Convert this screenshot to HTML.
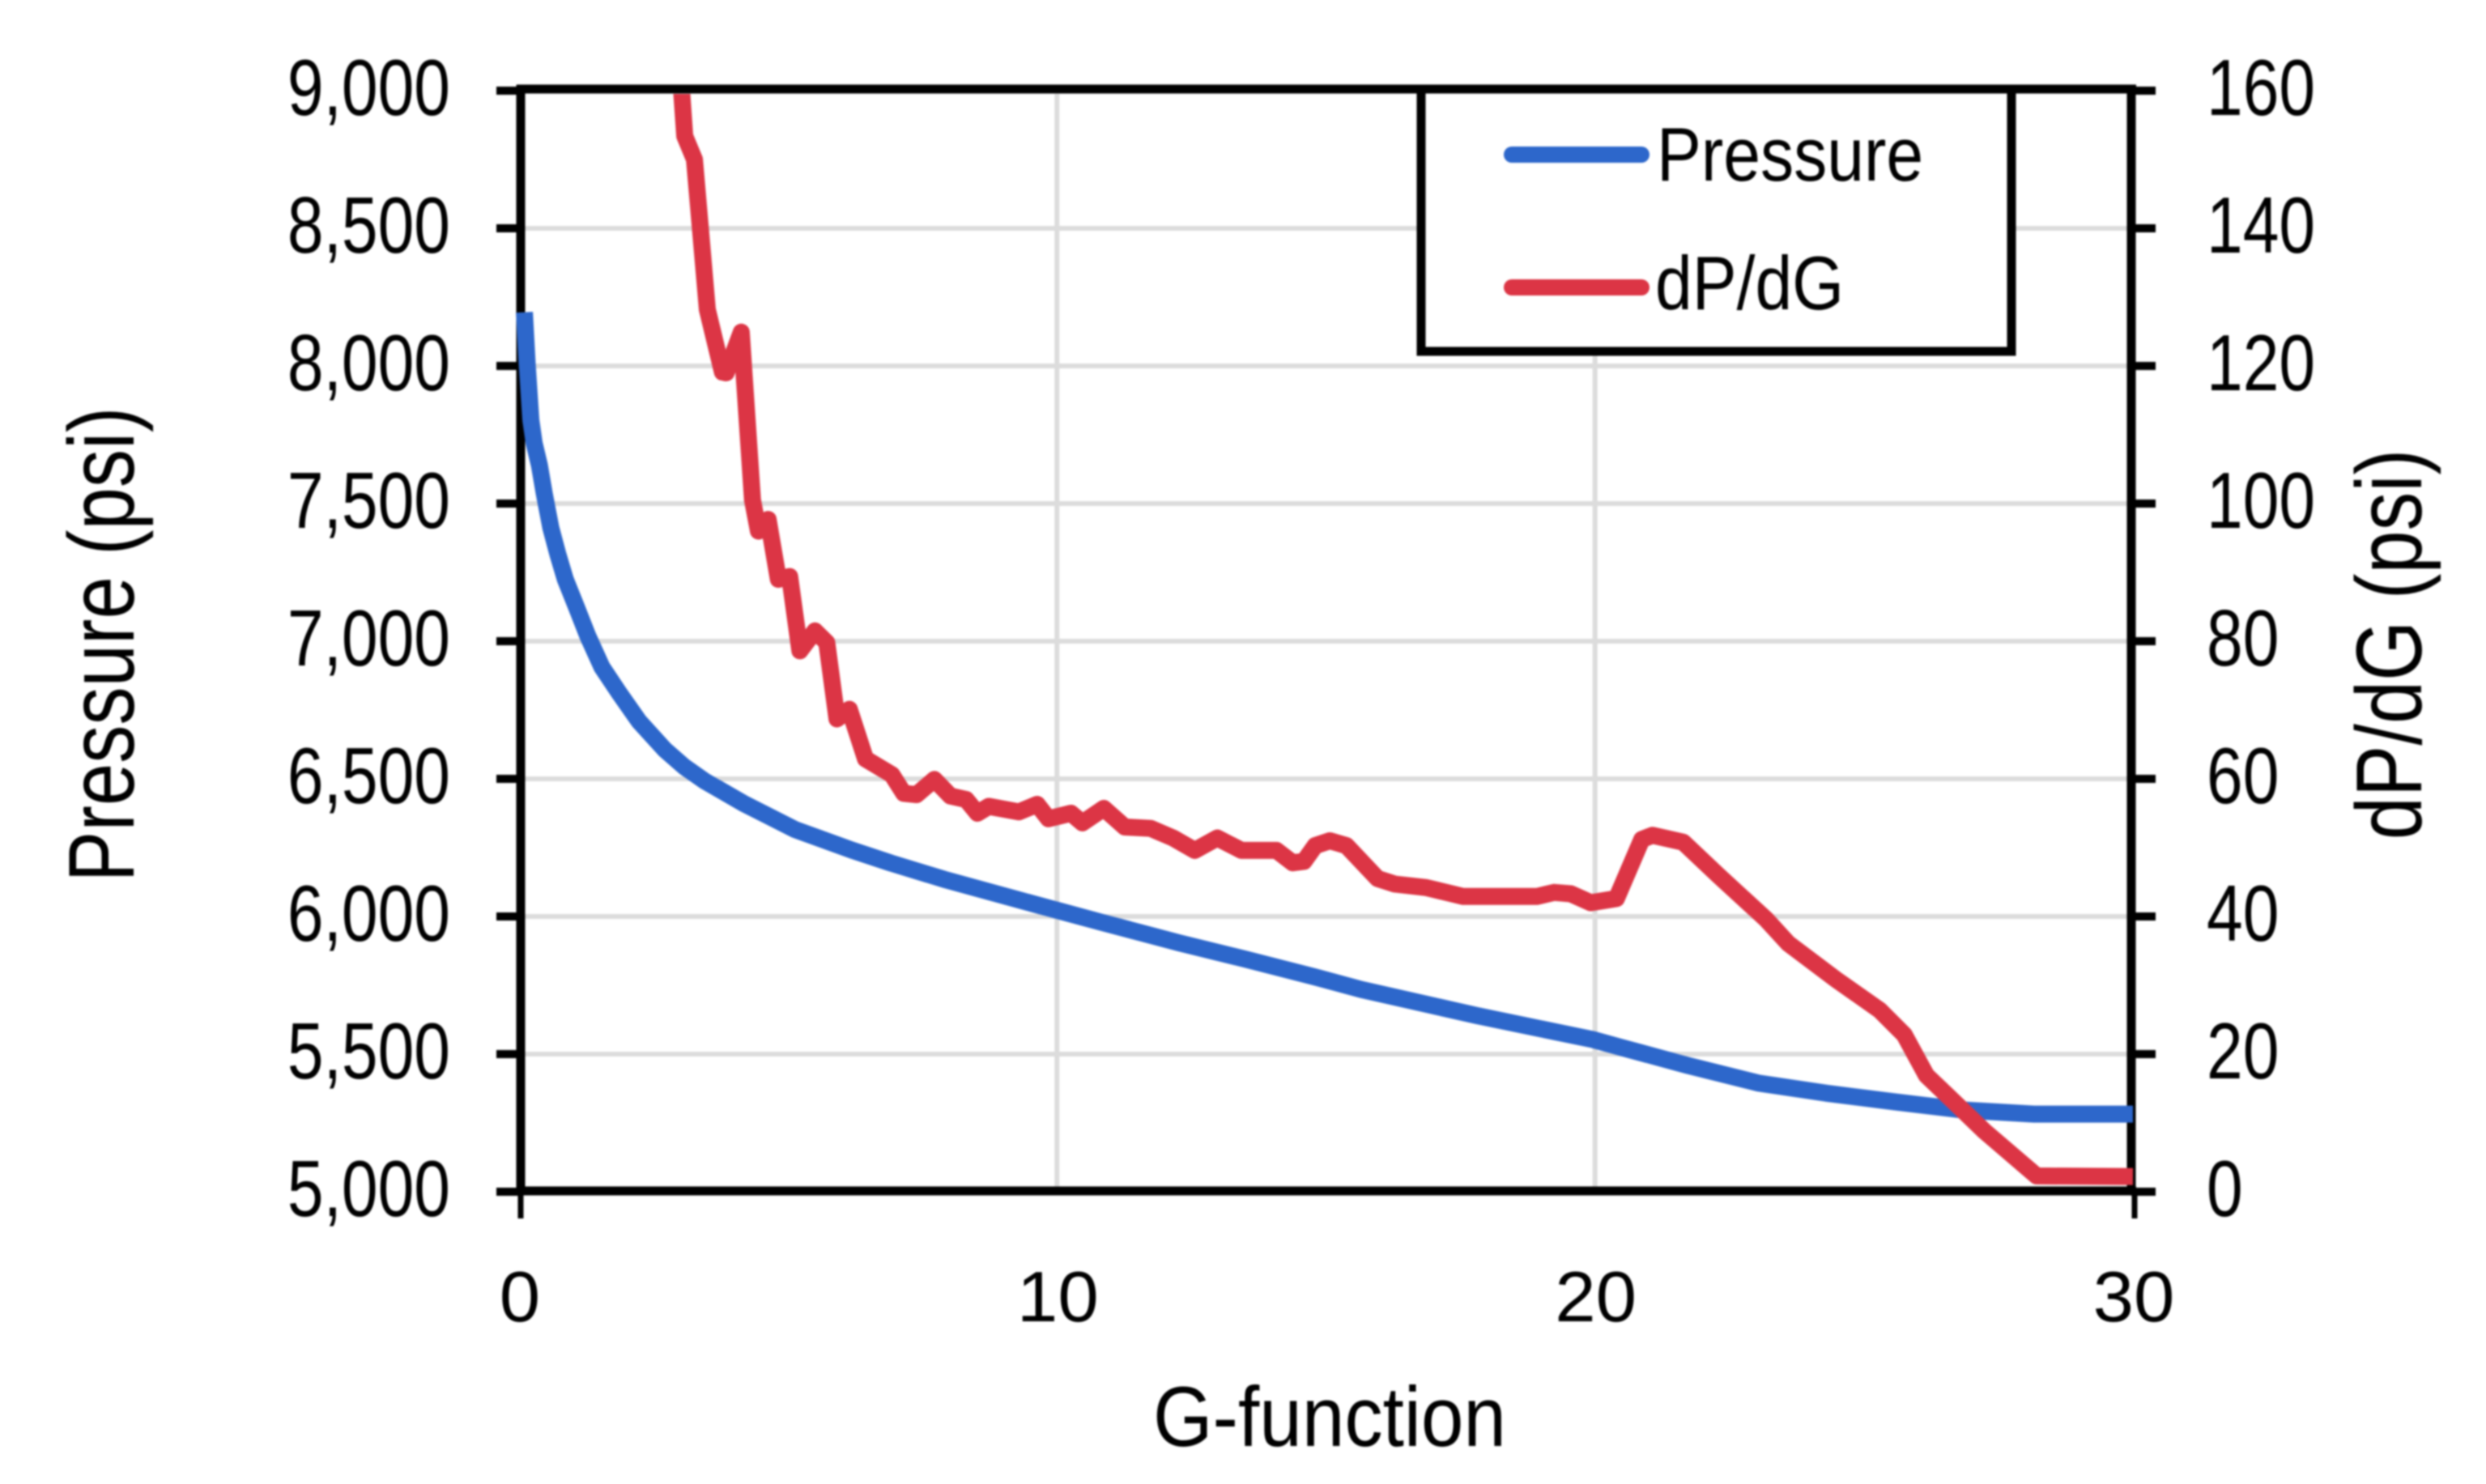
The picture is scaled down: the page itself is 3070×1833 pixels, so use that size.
<!DOCTYPE html>
<html lang="en">
<head>
<meta charset="utf-8">
<title>Pressure and dP/dG vs G-function</title>
<style>
html,body{margin:0;padding:0;background:#fff;}
svg{display:block;filter:blur(1px);}
text{font-family:"Liberation Sans",Arial,sans-serif;fill:#000;}
</style>
</head>
<body>
<svg id="chart" width="3070" height="1833" viewBox="0 0 3070 1833" xmlns="http://www.w3.org/2000/svg">
  <defs>
    <clipPath id="plot-clip"><rect x="630" y="116" width="2007" height="1350"></rect></clipPath>
  </defs>
  <rect x="0" y="0" width="3070" height="1833" fill="#ffffff"></rect>
  <g id="grid"></g>
  <g id="axes"></g>
  <g id="labels"></g>
  <g clip-path="url(#plot-clip)">
    <path id="pressure-line" fill="none" stroke="#2d67cb" stroke-width="21" stroke-linejoin="round"></path>
    <path id="dpdg-line" fill="none" stroke="#dc3545" stroke-width="21" stroke-linejoin="round"></path>
  </g>
  <g>
    <rect x="1755" y="110" width="729" height="324" fill="#ffffff" stroke="#000000" stroke-width="11"></rect>
    <line x1="1867" y1="191" x2="2027" y2="191" stroke="#2d67cb" stroke-width="20" stroke-linecap="round"></line>
    <text transform="translate(2046,223) scale(0.875,1)" font-size="94">Pressure</text>
    <line x1="1867" y1="355" x2="2027" y2="355" stroke="#dc3545" stroke-width="20" stroke-linecap="round"></line>
    <text transform="translate(2044,382) scale(0.875,1)" font-size="94">dP/dG</text>
  </g>
  <line x1="638" y1="110" x2="2638" y2="110" stroke="#000" stroke-width="11"></line>
  <text transform="translate(1642,1786) scale(0.9,1)" font-size="105" text-anchor="middle">G-function</text>
  <text transform="translate(165,796) rotate(-90) scale(0.82,1)" font-size="115" text-anchor="middle">Pressure (psi)</text>
  <text transform="translate(2990,796) rotate(-90) scale(0.83,1)" font-size="115" text-anchor="middle">dP/dG (psi)</text>
</svg>
<script>
const xTicks = [0, 10, 20, 30];
const pressureTicks = [5000, 5500, 6000, 6500, 7000, 7500, 8000, 8500, 9000];
const pressureTickLabels = ["5,000", "5,500", "6,000", "6,500", "7,000", "7,500", "8,000", "8,500", "9,000"];
const dpdgTicks = [0, 20, 40, 60, 80, 100, 120, 140, 160];

const pressureG = [0.1, 0.15, 0.22, 0.28, 0.38, 0.47, 0.59, 0.72, 0.86, 1.07, 1.28, 1.54, 1.86, 2.23, 2.71, 3.07, 3.45, 4.18, 5.13, 6.19, 6.91, 7.9, 9.31, 10.8, 12.27, 13.5, 14.8, 15.65, 17.8, 19.96, 20.46, 21.7, 23.03, 24.3, 25.6, 26.83, 28.16, 30];
const pressureValues = [8195, 8009, 7803, 7720, 7638, 7535, 7412, 7317, 7225, 7122, 7018, 6906, 6812, 6709, 6606, 6544, 6492, 6410, 6316, 6241, 6194, 6135, 6059, 5980, 5904, 5845, 5780, 5735, 5640, 5553, 5526, 5460, 5395, 5358, 5326, 5297, 5282, 5282];

const dpdgG = [3.02, 3.08, 3.26, 3.5, 3.78, 3.85, 4.13, 4.34, 4.45, 4.63, 4.82, 5.03, 5.22, 5.5, 5.72, 5.91, 6.14, 6.44, 6.93, 7.15, 7.39, 7.72, 8.02, 8.31, 8.52, 8.73, 9.29, 9.63, 9.84, 10.26, 10.47, 10.87, 11.26, 11.74, 12.16, 12.56, 12.98, 13.43, 14.08, 14.38, 14.59, 14.8, 15.07, 15.38, 15.96, 16.28, 16.86, 17.55, 18.92, 19.24, 19.55, 19.92, 20.4, 20.87, 21.07, 21.64, 22.3, 23.18, 23.59, 24.47, 25.29, 25.75, 26.16, 26.63, 27.24, 28.21, 30];
const dpdgValues = [160.2, 153.4, 150, 128.2, 119.1, 119, 124.9, 100.5, 96, 97.7, 89, 89.4, 78.6, 81.5, 79.8, 68.7, 70.1, 62.9, 60.6, 57.9, 57.7, 59.9, 57.5, 57, 55, 56, 55.2, 56.3, 54.2, 55, 53.6, 55.7, 53, 52.8, 51.4, 49.6, 51.4, 49.6, 49.6, 47.8, 48, 50.3, 51, 50.3, 45.5, 44.7, 44.2, 42.9, 42.9, 43.5, 43.3, 42, 42.6, 51.2, 51.8, 50.8, 45.9, 39.6, 36.1, 30.9, 26.4, 22.8, 16.9, 13.4, 8.8, 2.3, 2.2];

const SVGNS = "http://www.w3.org/2000/svg";
const X_LEFT = 641, X_RIGHT = 2634, Y_TOP = 112, Y_BOTTOM = 1472;
function xScale(g) { return X_LEFT + (g - 0) / (30 - 0) * (X_RIGHT - X_LEFT); }
function pressureScale(p) { return Y_BOTTOM - (p - 5000) / (9000 - 5000) * (Y_BOTTOM - Y_TOP); }
function dpdgScale(v) { return Y_BOTTOM - (v - 0) / (160 - 0) * (Y_BOTTOM - Y_TOP); }

function makeLine(parent, x1, y1, x2, y2, color, width) {
  const el = document.createElementNS(SVGNS, "line");
  el.setAttribute("x1", x1);
  el.setAttribute("y1", y1);
  el.setAttribute("x2", x2);
  el.setAttribute("y2", y2);
  el.setAttribute("stroke", color);
  el.setAttribute("stroke-width", width);
  parent.appendChild(el);
  return el;
}
function makeText(parent, str, x, y, size, sx, anchor) {
  const el = document.createElementNS(SVGNS, "text");
  el.setAttribute("transform", "translate(" + x + "," + y + ") scale(" + sx + ",1)");
  el.setAttribute("font-size", size);
  el.setAttribute("text-anchor", anchor);
  el.textContent = str;
  parent.appendChild(el);
  return el;
}
function pathFrom(xs, ys, fx, fy) {
  return xs.map(function (x, i) {
    return (i ? "L" : "M") + fx(x).toFixed(1) + " " + fy(ys[i]).toFixed(1);
  }).join(" ");
}

const grid = document.getElementById("grid");
const axes = document.getElementById("axes");
const labels = document.getElementById("labels");

pressureTicks.forEach(function (p, i) {
  const y = pressureScale(p);
  if (p !== 5000 && p !== 9000) {
    const g = makeLine(grid, 648, y, 2628, y, "#dcdcdc", 6);
    
    
  }
  const t = makeLine(axes, 613, y, 643, y, "#000", 10);
  
  
  const l = makeText(labels, pressureTickLabels[i], 556, y + 30, 98, 0.82, "end");
  
  
});

dpdgTicks.forEach(function (v) {
  const y = dpdgScale(v);
  const t = makeLine(axes, 2632, y, 2662, y, "#000", 10);
  
  
  const l = makeText(labels, String(v), 2725, y + 30, 98, 0.82, "start");
  
  
});

xTicks.forEach(function (g) {
  const x = xScale(g);
  if (g !== 0 && g !== 30) {
    const gl = makeLine(grid, x, 116, x, 1466, "#dcdcdc", 6);
    
    
  } else {
    const t = makeLine(axes, x + 2, 1472, x + 2, 1505, "#000", 7);
    
    
  }
  const l = makeText(labels, String(g), x + 1, 1632, 88, 1.03, "middle");
  
  
});

const leftAxis = makeLine(axes, 643, 105, 643, 1476, "#000", 11);


const rightAxis = makeLine(axes, 2632, 105, 2632, 1476, "#000", 11);


const bottomAxis = makeLine(axes, 638, 1471, 2638, 1471, "#000", 11);



document.getElementById("pressure-line").setAttribute("d", pathFrom(pressureG, pressureValues, xScale, pressureScale));
document.getElementById("dpdg-line").setAttribute("d", pathFrom(dpdgG, dpdgValues, xScale, dpdgScale));
</script>
</body>
</html>
